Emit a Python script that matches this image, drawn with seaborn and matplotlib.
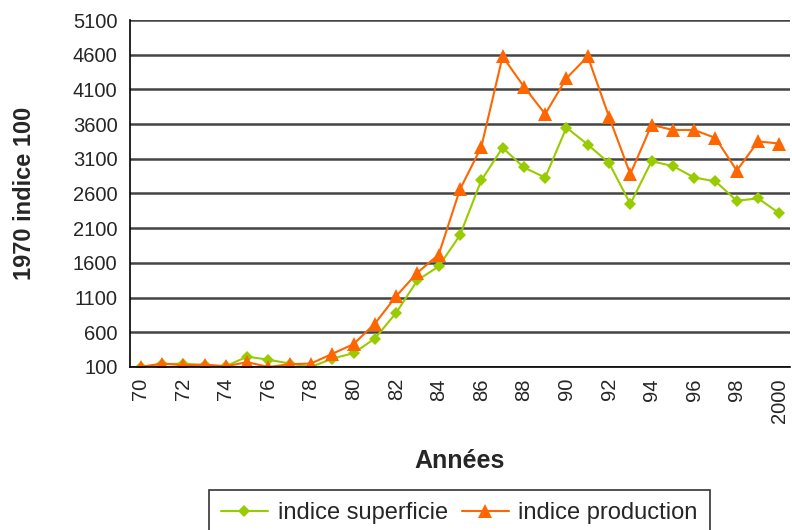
import matplotlib
matplotlib.use("Agg")
import matplotlib.pyplot as plt
from matplotlib.ticker import FixedLocator
import seaborn as sns
import numpy as np
import pandas as pd

years = list(range(1970, 2001))
superficie = [100, 140, 150, 125, 110, 250, 205, 150, 100, 220, 300, 510, 880, 1350, 1550,
              2000, 2790, 3260, 2975, 2830, 3550, 3305, 3040, 2450, 3065, 2995, 2830, 2775,
              2495, 2530, 2315]
production = [100, 150, 125, 135, 110, 170, 100, 140, 150, 290, 430, 725, 1120, 1460, 1720,
              2660, 3270, 4575, 4140, 3745, 4260, 4575, 3705, 2880, 3590, 3515, 3515, 3400,
              2930, 3350, 3320]
year_labels = [str(y)[2:] if y < 2000 else "2000" for y in years]
y_ticks = list(range(100, 5101, 500))

df = pd.DataFrame({"pos": np.arange(len(years)), "superficie": superficie, "production": production})

sns.set_style("white")
plt.rcParams["font.family"] = ["Liberation Sans", "DejaVu Sans"]

fig = plt.figure(figsize=(7.92, 5.30), dpi=100)
ax = fig.add_axes([130 / 792, 1 - 367 / 530, 660 / 792, 347 / 530])

# horizontal grid, Excel style
for v in y_ticks:
    ax.axhline(v, color="#444444", lw=1.8, zorder=0)

sns.lineplot(data=df, x="pos", y="superficie", ax=ax, color="#99CC00", marker="D",
             markersize=6, markeredgewidth=0, lw=1.5, label="indice superficie")
sns.lineplot(data=df, x="pos", y="production", ax=ax, color="#FF6600", marker="^",
             markersize=10, markeredgewidth=0, lw=1.5, label="indice production")

ax.set_xlim(-0.5, len(years) - 0.5)
ax.set_ylim(100, 5100)
ax.set_yticks(y_ticks)
ax.set_yticklabels([str(v) for v in y_ticks], fontsize=14.5)
ax.tick_params(axis="y", direction="out", length=6, width=1, color="black", pad=3)

# labels at even years, ticks between categories
ax.set_xticks(np.arange(0, len(years), 2))
ax.set_xticklabels(year_labels[::2], rotation=90, fontsize=14.5)
ax.tick_params(axis="x", which="major", length=0, pad=8)
ax.xaxis.set_minor_locator(FixedLocator(np.arange(-0.5, len(years), 1)))
ax.tick_params(axis="x", which="minor", direction="out", length=7, width=1, color="black")

for s in ["top", "right"]:
    ax.spines[s].set_visible(False)
for s in ["left", "bottom"]:
    ax.spines[s].set_color("black")
    ax.spines[s].set_linewidth(1.2)

ax.set_xlabel("Années", fontsize=18, fontweight="bold")
ax.set_ylabel("1970 indice 100", fontsize=17, fontweight="bold")
ax.xaxis.set_label_coords(0.5, -0.235)
ax.yaxis.set_label_coords(-0.142, 0.5)

ax.legend(loc="upper center", bbox_to_anchor=(0.580, 0.0755), bbox_transform=fig.transFigure,
          borderaxespad=0, ncol=2, fontsize=17, frameon=True, fancybox=False, edgecolor="black",
          handlelength=2.0, handletextpad=0.4, columnspacing=0.6, borderpad=0.5)
ax.get_legend().get_frame().set_linewidth(1.2)

fig.savefig("out.png", dpi=100)
